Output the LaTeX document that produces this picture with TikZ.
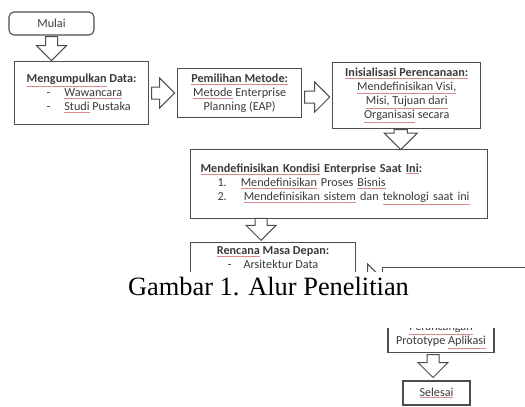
\documentclass[tikz,border=0pt]{standalone}
\usepackage{fontspec}
\setmainfont{Liberation Serif}
\newfontfamily\calibri{Carlito}
\usepackage{tikz}
\usetikzlibrary{positioning,shapes,arrows}
\usepackage{xcolor}
\definecolor{garis}{HTML}{4D4D4D}
\definecolor{teks}{HTML}{3A3A3A}
\definecolor{merah}{HTML}{D98A8A}
\newcommand{\salah}[1]{{\color{merah}$\underline{\hbox{\color{teks}#1}}$}}

\begin{document}
\begin{tikzpicture}[
  x=1pt,y=-1pt,
  kotak/.style={draw=garis,line width=1.1pt,rectangle,align=center,text=teks,
    font=\calibri\fontsize{12.2}{14}\selectfont,inner sep=0pt},
  panah/.style={single arrow,draw=garis,line width=1pt,fill=white,
    minimum height=22pt,minimum width=29pt,inner sep=5.5pt,
    single arrow head extend=9pt},
  panahbawah/.style={panah,shape border rotate=270}
]
\useasboundingbox (0,0) rectangle (525,407);
\begin{scope}
\clip (0,0) rectangle (525,271);
\node[kotak,rounded corners=5pt,minimum width=85pt,minimum height=23pt] (mulai) at (51.5,23.5) {Mulai};
\node[kotak,minimum width=134pt,minimum height=63pt,align=left,anchor=north west] (data) at (14,61)
  {\textbf{\salah{Mengumpulkan} Data:}\\
   \hspace*{20pt}-\hspace{14pt}\salah{Wawancara}\\
   \hspace*{20pt}-\hspace{14pt}\salah{Studi} Pustaka};
\node[kotak,minimum width=124pt,minimum height=49pt,right=28pt of data] (metode)
  {\salah{\textbf{Pemilihan Metode:}}\\\salah{Metode} Enterprise\\Planning (EAP)};
\node[kotak,minimum width=148pt,minimum height=66pt,right=30pt of metode,yshift=-2pt] (inisial)
  {\salah{\textbf{Inisialisasi Perencanaan:}}\\\salah{Mendefinisikan Visi,}\\
   \salah{Misi, Tujuan dari}\\\salah{Organisasi} secara};
\node[kotak,minimum width=297pt,minimum height=69pt,text width=277pt,inner xsep=10pt,
  align=left,anchor=north west] (kondisi) at (190,149)
  {\textbf{\salah{Mendefinisikan Kondisi} Enterprise Saat \salah{Ini}:}\\
   \hspace*{17pt}1.\hspace{14pt}\salah{Mendefinisikan} Proses \salah{Bisnis}\\
   \hspace*{17pt}2.\hspace{17pt}\salah{Mendefinisikan sistem} dan \salah{teknologi saat ini}};
\node[kotak,minimum width=165pt,inner ysep=4pt,text depth=40pt,anchor=north west] (rencana) at (190,242)
  {\textbf{\salah{Rencana} Masa Depan:}\\-\hspace{12pt}Arsitektur Data};
\node[kotak,minimum width=200pt,minimum height=60pt,anchor=north west] (lanjut) at (382,267) {};
% panah blok
\node[panahbawah,anchor=tail,minimum height=24pt] (p0) at ([yshift=-0.5pt]mulai.south) {};
\node[panah,anchor=tail,minimum height=23pt] (p1) at ([xshift=2pt]data.east) {};
\node[panah,anchor=tail,minimum height=25pt] (p2) at ([xshift=2pt,yshift=-4pt]metode.east) {};
\node[panahbawah,anchor=tail,minimum height=20pt,minimum width=33pt] (p3) at ([xshift=-6pt,yshift=-0.5pt]inisial.south) {};
\node[panahbawah,anchor=tip,minimum height=22pt] (p4) at ([xshift=-12pt,yshift=1pt]rencana.north) {};
\node[panah,anchor=tail,minimum height=25pt] (p5) at ([xshift=1pt,yshift=-37pt]rencana.north east) {};
\end{scope}
\begin{scope}
\clip (0,328) rectangle (525,407);
\node[kotak,minimum width=106pt,inner ysep=4pt,text height=30pt,anchor=south] (rancang) at (441,353)
  {\salah{Perancangan}\\Prototype \salah{Aplikasi}};
\node[kotak,minimum width=67pt,minimum height=24pt] (selesai) at (436.5,393) {\salah{Selesai}};
\node[panahbawah,anchor=tail,minimum height=23pt] (p6) at ([xshift=-8pt,yshift=-1pt]rancang.south) {};
\end{scope}
\node[font=\fontsize{26.4}{30}\selectfont,anchor=base] (judul) at (268.5,295) {Gambar 1. Alur Penelitian};
\end{tikzpicture}
\end{document}
